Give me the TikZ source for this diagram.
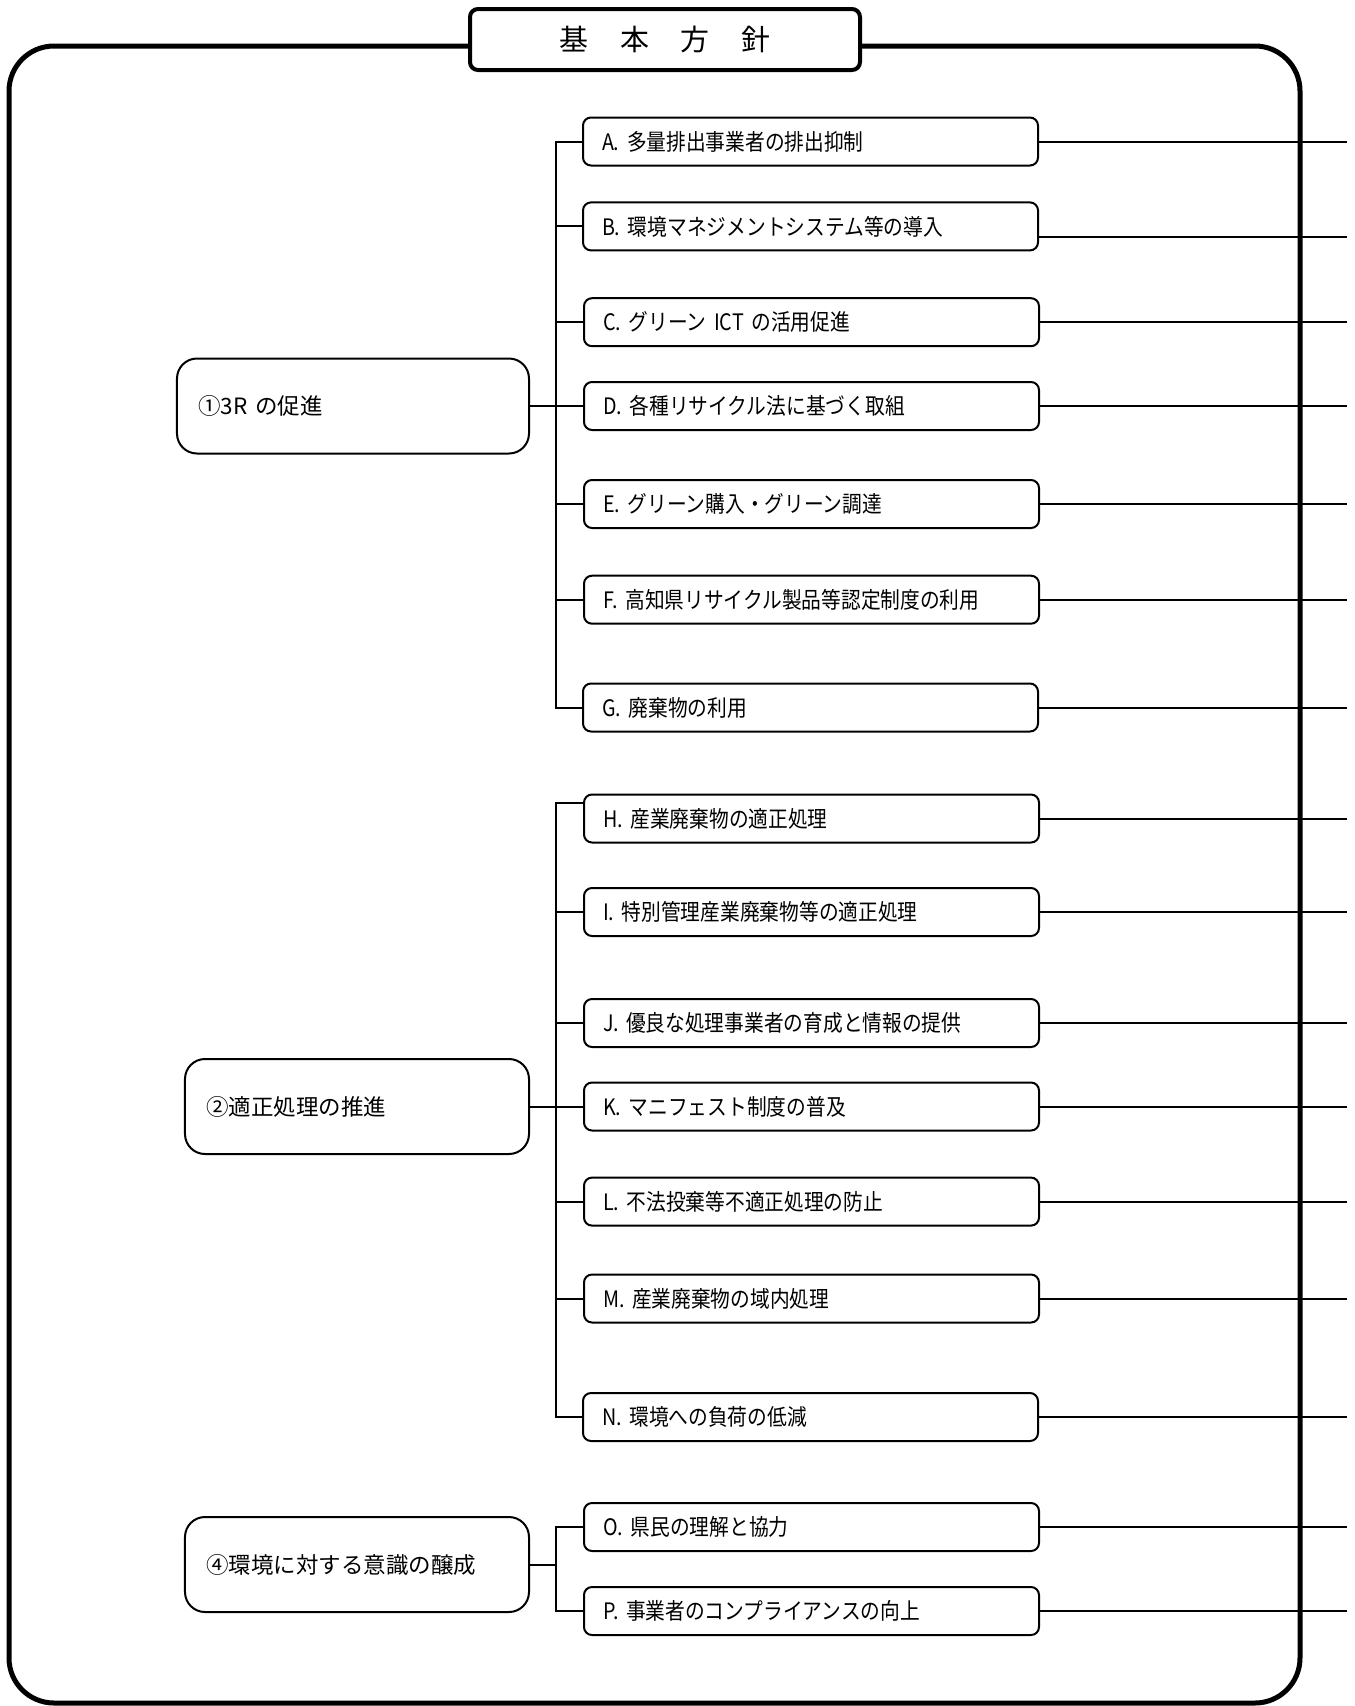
\documentclass[tikz,border=0pt]{standalone}
\usepackage{fontspec}
\setmainfont{Noto Sans CJK JP}
\newfontfamily\jpnarrow[FakeStretch=0.87]{Noto Sans CJK JP}
\begin{document}
\begin{tikzpicture}[x=0.2mm,y=-0.2mm,
    measure/.style={draw,line width=0.4mm,rounded corners=1.6mm,anchor=west,
      minimum height=9.6mm,inner xsep=3.8mm,text width=83.4mm,align=left,
      font=\jpnarrow\fontsize{12.9pt}{14pt}\selectfont},
    policy/.style={draw,line width=0.4mm,rounded corners=4mm,anchor=east,
      minimum height=19mm,inner xsep=4.3mm,align=left,
      font=\fontsize{12.8pt}{15pt}\selectfont},
    link/.style={line width=0.4mm}]
  \useasboundingbox (0,0) rectangle (1355,1706);
  % frame and title
  \draw[line width=1mm,rounded corners=9mm] (9,46) rectangle (1300,1703);
  \node[draw,fill=white,line width=0.8mm,rounded corners=1.6mm,minimum width=78mm,
    minimum height=12.2mm,font=\fontsize{16.5pt}{18pt}\selectfont] (title) at (665,39.5)
    {基\hspace{6.3mm}本\hspace{6.3mm}方\hspace{6.3mm}針};
  \coordinate (edge) at (1347,0);
  \coordinate (bus) at (556,0);
  % policies
  \node[policy,text width=61.8mm] (p1) at (530,406) {①3R の促進};
  \node[policy,text width=60.2mm] (p2) at (530,1106.5) {②適正処理の推進};
  \node[policy,text width=60.2mm] (p4) at (530,1564.5) {④環境に対する意識の醸成};
  % measures
  \node[measure] (A) at (582,141.5) {A. 多量排出事業者の排出抑制};
  \node[measure] (B) at (582,226.4) {B. 環境マネジメントシステム等の導入};
  \node[measure] (C) at (583,322.2) {C. グリーン ICT の活用促進};
  \node[measure] (D) at (583,406) {D. 各種リサイクル法に基づく取組};
  \node[measure] (E) at (583,504) {E. グリーン購入・グリーン調達};
  \node[measure] (F) at (583,599.7) {F. 高知県リサイクル製品等認定制度の利用};
  \node[measure] (G) at (582,707.5) {G. 廃棄物の利用};
  \node[measure] (H) at (583,818.5) {H. 産業廃棄物の適正処理};
  \node[measure] (I) at (583,912) {I. 特別管理産業廃棄物等の適正処理};
  \node[measure] (J) at (583,1023) {J. 優良な処理事業者の育成と情報の提供};
  \node[measure] (K) at (583,1106.5) {K. マニフェスト制度の普及};
  \node[measure] (L) at (583,1201.6) {L. 不法投棄等不適正処理の防止};
  \node[measure] (M) at (583,1298.5) {M. 産業廃棄物の域内処理};
  \node[measure] (N) at (582,1417) {N. 環境への負荷の低減};
  \node[measure] (O) at (583,1527) {O. 県民の理解と協力};
  \node[measure] (P) at (583,1611) {P. 事業者のコンプライアンスの向上};
  % tree lines
  \draw[link] (p1.east) -- (D.west);
  \draw[link] (A.west) -- (A.west -| bus) -- (G.west -| bus) -- (G.west);
  \foreach \n in {B,C,E,F} \draw[link] (\n.west) -- (\n.west -| bus);
  \draw[link] (p2.east) -- (K.west);
  \draw[link] ([yshift=3.1mm]H.west) -- ([yshift=3.1mm]H.west -| bus) -- (N.west -| bus) -- (N.west);
  \foreach \n in {I,J,L,M} \draw[link] (\n.west) -- (\n.west -| bus);
  \draw[link] (p4.east) -- (p4.east -| bus);
  \draw[link] (O.west) -- (O.west -| bus) -- (P.west -| bus) -- (P.west);
  % lines to the right
  \foreach \n in {A,C,D,E,F,G,H,I,J,K,L,M,N,O,P} \draw[link] (\n.east) -- (\n.east -| edge);
  \draw[link] ([yshift=-2.2mm]B.east) -- ([yshift=-2.2mm]B.east -| edge);
\end{tikzpicture}
\end{document}
